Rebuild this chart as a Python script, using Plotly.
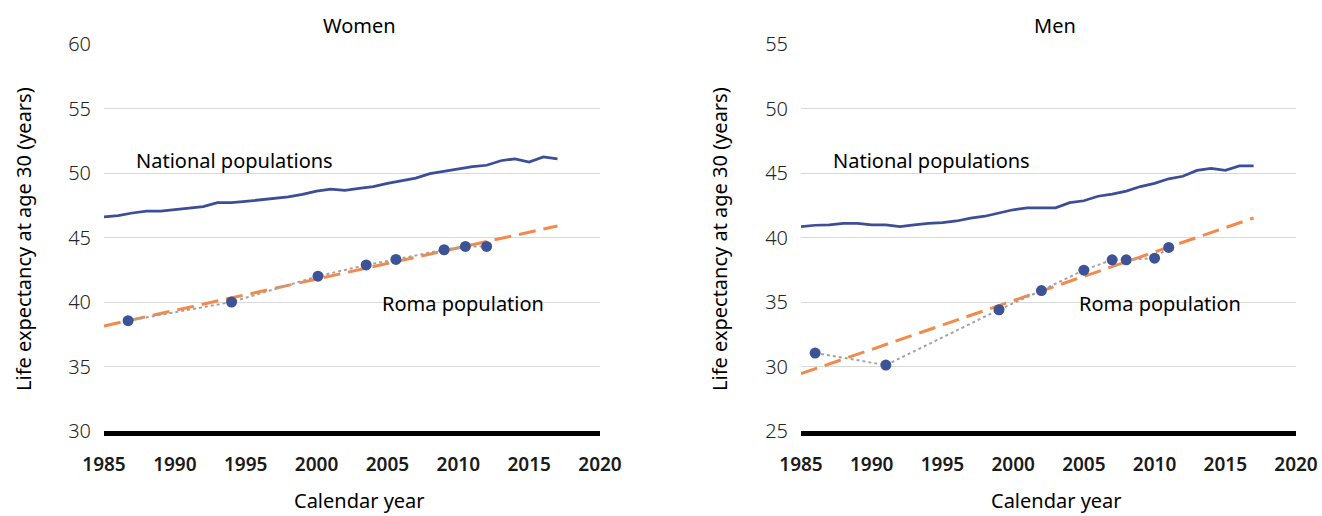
import numpy as np
import plotly.graph_objects as go
from plotly.subplots import make_subplots

# ---- data -------------------------------------------------------------
years = list(range(1985, 2018))

national_women = [46.6, 46.7, 46.9, 47.05, 47.05, 47.15, 47.3, 47.4, 47.7, 47.7,
                  47.8, 47.9, 48.0, 48.15, 48.35, 48.6, 48.75, 48.65, 48.8, 48.95,
                  49.2, 49.4, 49.6, 49.95, 50.15, 50.3, 50.5, 50.6, 50.95, 51.1,
                  50.85, 51.25, 51.1]

national_men = [40.85, 40.95, 40.97, 41.1, 41.1, 40.97, 40.97, 40.85, 40.97, 41.1,
                41.15, 41.28, 41.5, 41.65, 41.9, 42.15, 42.3, 42.3, 42.3, 42.7,
                42.85, 43.2, 43.37, 43.6, 43.95, 44.2, 44.55, 44.75, 45.2, 45.35,
                45.2, 45.55, 45.55]

roma_women_years = [1986.7, 1994.0, 2000.1, 2003.5, 2005.6, 2009.0, 2010.5, 2012.0]
roma_women = [38.55, 40.0, 42.0, 42.87, 43.3, 44.05, 44.31, 44.31]

roma_men_years = [1986, 1991, 1999, 2002, 2005, 2007, 2008, 2010, 2011]
roma_men = [31.04, 30.11, 34.4, 35.89, 37.47, 38.27, 38.27, 38.4, 39.23]

x_ticks = [1985, 1990, 1995, 2000, 2005, 2010, 2015, 2020]
women_y_ticks = [30, 35, 40, 45, 50, 55, 60]
men_y_ticks = [25, 30, 35, 40, 45, 50, 55]

panel_titles = ["Women", "Men"]
x_title = "Calendar year"
y_title = "Life expectancy at age 30 (years)"

# ---- styling ----------------------------------------------------------
FONT = "Noto Sans"
NAVY = "#3B4E97"
DOT_BLUE = "#3C5497"
ORANGE = "#F4894B"
GREY_DOTS = "#A3A3A3"
GRID = "#D9D9D9"

fig = make_subplots(rows=1, cols=2)


def add_panel(col, national, r_years, r_vals):
    # national populations: solid navy line
    fig.add_trace(go.Scatter(x=years, y=national, mode="lines",
                             line=dict(color=NAVY, width=2.75),
                             name="National populations", showlegend=False),
                  row=1, col=col)
    # linear trend fitted to the Roma survey points
    slope, intercept = np.polyfit(r_years, r_vals, 1)
    tx = [years[0], years[-1]]
    ty = [slope * v + intercept for v in tx]
    fig.add_trace(go.Scatter(x=tx, y=ty, mode="lines",
                             line=dict(color=ORANGE, width=3, dash="17px,8px"),
                             name="Trend", showlegend=False),
                  row=1, col=col)
    # Roma population: survey points joined by a dotted line
    fig.add_trace(go.Scatter(x=r_years, y=r_vals, mode="lines+markers",
                             line=dict(color=GREY_DOTS, width=2, dash="dot"),
                             marker=dict(color=DOT_BLUE, size=11),
                             name="Roma population", showlegend=False),
                  row=1, col=col)


add_panel(1, national_women, roma_women_years, roma_women)
add_panel(2, national_men, roma_men_years, roma_men)

W, H = 1322, 516
plot_top, plot_bottom = 44, 431
ydom = [1 - plot_bottom / H, 1 - plot_top / H]

xaxis_common = dict(range=[1985, 2020], tickvals=x_ticks, showgrid=False,
                    zeroline=False, showline=True, linecolor="black",
                    linewidth=5, ticks="", ticklabelstandoff=12, automargin=False,
                    tickfont=dict(family=FONT, size=19, color="#1A1A1A", weight=600))
yaxis_common = dict(showgrid=True, gridcolor=GRID, gridwidth=1, zeroline=False,
                    showline=False, ticks="", ticklabelstandoff=12, automargin=False,
                    tickfont=dict(family=FONT, size=20, color="#262626", weight=300))

fig.update_layout(
    width=W, height=H,
    margin=dict(l=0, r=0, t=0, b=0, pad=0, autoexpand=False),
    paper_bgcolor="white", plot_bgcolor="white",
    showlegend=False,
    xaxis=dict(domain=[104 / W, 600 / W], **xaxis_common),
    xaxis2=dict(domain=[801 / W, 1296 / W], **xaxis_common),
    yaxis=dict(domain=ydom, range=[30, 60], tickvals=women_y_ticks, **yaxis_common),
    yaxis2=dict(domain=ydom, range=[25, 55], tickvals=men_y_ticks, **yaxis_common),
)

TEXT_SIZE = 20
annotations = []
# panel titles
for title, cx in zip(panel_titles, [359, 1055]):
    annotations.append(dict(text=title, x=cx / W, y=1 - 26 / H, xref="paper", yref="paper",
                            xanchor="center", yanchor="middle", showarrow=False,
                            font=dict(family=FONT, size=TEXT_SIZE, color="black")))
# axis titles
for cx in [359, 1056]:
    annotations.append(dict(text=x_title, x=cx / W, y=1 - 500 / H, xref="paper", yref="paper",
                            xanchor="center", yanchor="middle", showarrow=False,
                            font=dict(family=FONT, size=TEXT_SIZE, color="black")))
for cx in [24, 720]:
    annotations.append(dict(text=y_title, x=cx / W, y=1 - 239 / H, xref="paper", yref="paper",
                            xanchor="center", yanchor="middle", showarrow=False, textangle=-90,
                            font=dict(family=FONT, size=TEXT_SIZE, color="black")))
# series labels
labels = [("National populations", "x", "y", 1987.1, 50.95),
          ("Roma population", "x", "y", 2004.5, 39.9),
          ("National populations", "x2", "y2", 1987.1, 45.95),
          ("Roma population", "x2", "y2", 2004.5, 34.9)]
for text, xr, yr, lx, ly in labels:
    annotations.append(dict(text=text, x=lx, y=ly, xref=xr, yref=yr,
                            xanchor="left", yanchor="middle", showarrow=False,
                            font=dict(family=FONT, size=TEXT_SIZE, color="black")))

fig.update_layout(annotations=annotations)

fig.write_html("out.html")
